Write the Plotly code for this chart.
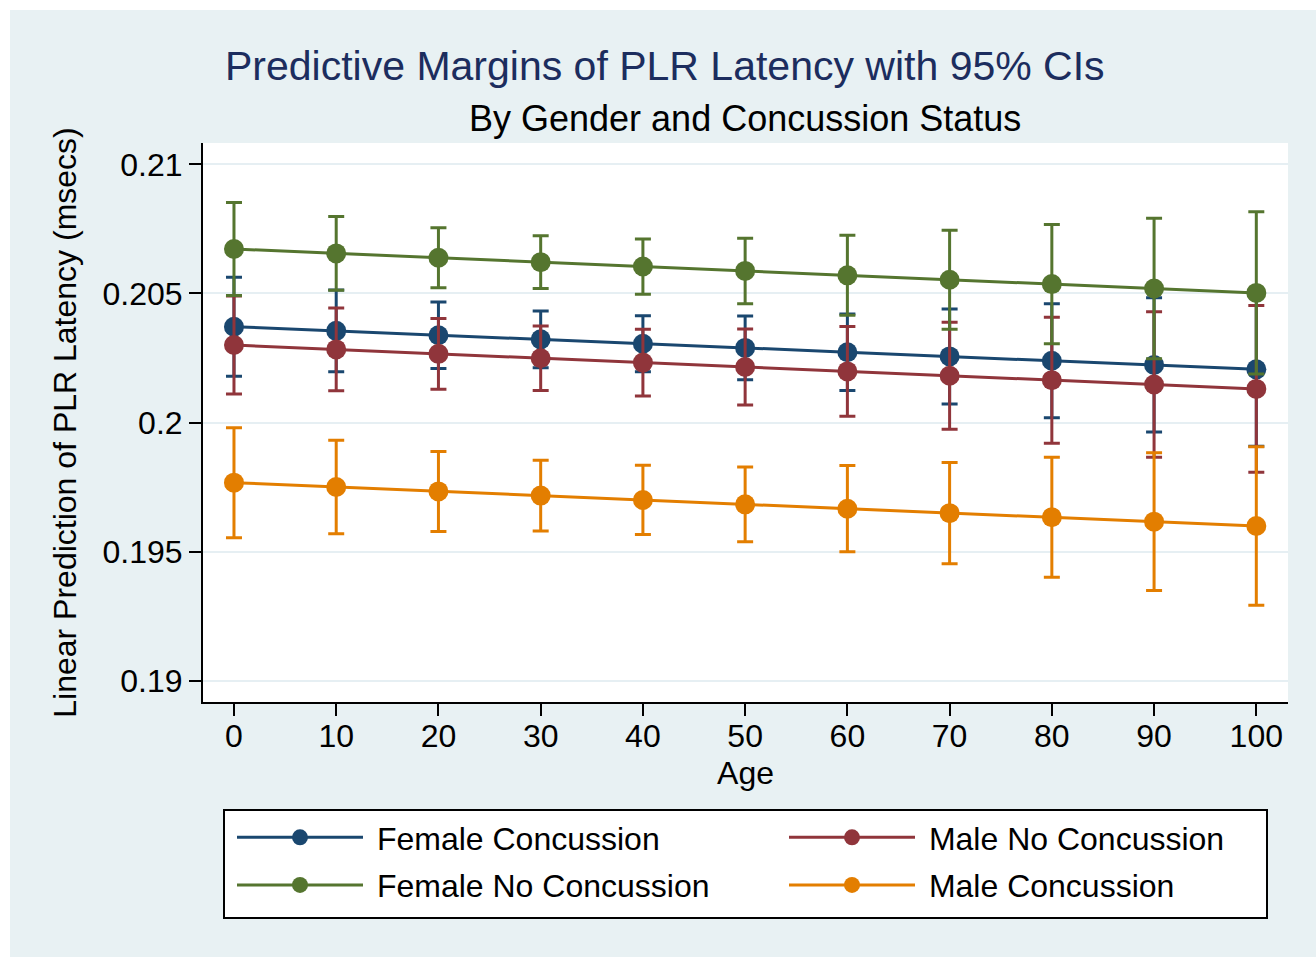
import plotly.graph_objects as go

age = [0, 10, 20, 30, 40, 50, 60, 70, 80, 90, 100]

series_names = ["Female Concussion", "Male No Concussion", "Female No Concussion", "Male Concussion"]

fc_mean = [0.20371, 0.20355, 0.20338, 0.20322, 0.20305, 0.20289, 0.20272, 0.20256, 0.20239, 0.20223, 0.20206]
fc_upper = [0.20563, 0.20513, 0.20467, 0.20432, 0.20413, 0.20412, 0.20420, 0.20440, 0.20460, 0.20483, 0.20504]
fc_lower = [0.20179, 0.20197, 0.20209, 0.20212, 0.20197, 0.20166, 0.20124, 0.20072, 0.20018, 0.19963, 0.19908]

mnc_mean = [0.20300, 0.20283, 0.20266, 0.20249, 0.20232, 0.20215, 0.20198, 0.20181, 0.20164, 0.20147, 0.20130]
mnc_upper = [0.20490, 0.20443, 0.20403, 0.20374, 0.20361, 0.20362, 0.20372, 0.20388, 0.20408, 0.20429, 0.20453]
mnc_lower = [0.20110, 0.20123, 0.20129, 0.20124, 0.20103, 0.20068, 0.20024, 0.19974, 0.19920, 0.19865, 0.19807]

fnc_mean = [0.20672, 0.20655, 0.20638, 0.20621, 0.20604, 0.20587, 0.20570, 0.20553, 0.20536, 0.20519, 0.20502]
fnc_upper = [0.20852, 0.20798, 0.20754, 0.20723, 0.20711, 0.20714, 0.20725, 0.20745, 0.20767, 0.20791, 0.20816]
fnc_lower = [0.20492, 0.20512, 0.20522, 0.20519, 0.20497, 0.20460, 0.20415, 0.20361, 0.20305, 0.20247, 0.20188]

mc_mean = [0.19767, 0.19750, 0.19733, 0.19717, 0.19700, 0.19683, 0.19666, 0.19649, 0.19633, 0.19616, 0.19599]
mc_upper = [0.19980, 0.19931, 0.19888, 0.19854, 0.19834, 0.19828, 0.19833, 0.19845, 0.19865, 0.19883, 0.19906]
mc_lower = [0.19554, 0.19569, 0.19578, 0.19580, 0.19566, 0.19538, 0.19499, 0.19453, 0.19401, 0.19349, 0.19292]

y_tickvals = [0.19, 0.195, 0.2, 0.205, 0.21]
y_ticktext = ["0.19", "0.195", "0.2", "0.205", "0.21"]
x_tickvals = [0, 10, 20, 30, 40, 50, 60, 70, 80, 90, 100]

colors = ["#1a476f", "#90353b", "#55752f", "#e37e00"]
means = [fc_mean, mnc_mean, fnc_mean, mc_mean]
uppers = [fc_upper, mnc_upper, fnc_upper, mc_upper]
lowers = [fc_lower, mnc_lower, fnc_lower, mc_lower]
legend_ids = ["legend", "legend2", "legend", "legend2"]

FONT = "Liberation Sans, Arial, Helvetica, sans-serif"
BG = "#e8f1f3"
NBSP = "\u00a0"

fig = go.Figure()
for i, (name, col, m, u, l, lg) in enumerate(zip(series_names, colors, means, uppers, lowers, legend_ids)):
    fig.add_trace(go.Scatter(
        x=age, y=m, name=NBSP + name, mode="lines+markers",
        legend=lg, legendgroup="g%d" % i,
        line=dict(color=col, width=3),
        marker=dict(color=col, size=20),
        error_y=dict(type="data", symmetric=False,
                     array=[a - b for a, b in zip(u, m)],
                     arrayminus=[b - c for b, c in zip(m, l)],
                     color=col, thickness=3, width=8),
    ))

W, H = 1316, 957
L, R, T, B = 203, 1288, 143, 702
pw, ph = R - L, B - T


def px(x):
    return (x - L) / pw


def py(y):
    return (B - y) / ph


legend_common = dict(
    orientation="v", yanchor="top", xanchor="left",
    bgcolor="rgba(0,0,0,0)", borderwidth=0,
    font=dict(family=FONT, size=32, color="black"),
    itemwidth=126, traceorder="grouped", tracegroupgap=3,
)

fig.update_layout(
    width=W, height=H,
    margin=dict(l=L, r=W - R, t=T, b=H - B, pad=0),
    paper_bgcolor=BG, plot_bgcolor="white",
    font=dict(family=FONT, size=32, color="black"),
    showlegend=True,
    legend=dict(x=px(232), y=py(810), **legend_common),
    legend2=dict(x=px(784), y=py(810), **legend_common),
    xaxis=dict(
        range=[-3.03, 103.1], tickvals=x_tickvals, showgrid=False, zeroline=False,
        showline=True, linecolor="black", linewidth=2, mirror=False,
        ticks="outside", ticklen=12, tickwidth=2, tickcolor="black",
        ticklabelstandoff=-7,
        tickfont=dict(size=32), title=dict(text="Age", font=dict(size=32), standoff=8),
    ),
    yaxis=dict(
        range=[0.189175, 0.210825], tickvals=y_tickvals, ticktext=y_ticktext,
        showgrid=True, gridcolor="#e6eff3", gridwidth=2, zeroline=False,
        showline=True, linecolor="black", linewidth=2,
        ticks="outside", ticklen=12, tickwidth=2, tickcolor="black",
        tickfont=dict(size=32),
        title=dict(text="Linear Prediction of PLR Latency (msecs)", font=dict(size=32), standoff=16),
    ),
    shapes=[
        dict(type="rect", xref="paper", yref="paper", x0=px(0), x1=px(W), y0=py(0), y1=py(10),
             fillcolor="white", line=dict(width=0), layer="above"),
        dict(type="rect", xref="paper", yref="paper", x0=px(0), x1=px(10), y0=py(H), y1=py(0),
             fillcolor="white", line=dict(width=0), layer="above"),
        dict(type="rect", xref="paper", yref="paper", x0=px(224), x1=px(1267), y0=py(918), y1=py(810),
             fillcolor="white", line=dict(width=2, color="black"), layer="above"),
    ],
    annotations=[
        dict(text="Predictive Margins of PLR Latency with 95% CIs", xref="paper", yref="paper",
             x=px(665), y=py(66), xanchor="center", yanchor="middle", showarrow=False,
             font=dict(family=FONT, size=41, color="#1c2d5e")),
        dict(text="By Gender and Concussion Status", xref="paper", yref="paper",
             x=px(745), y=py(118), xanchor="center", yanchor="middle", showarrow=False,
             font=dict(family=FONT, size=36, color="black")),
    ],
)

fig.write_html("out.html", config={"displayModeBar": False},
               post_script="document.body.style.margin='0';")
